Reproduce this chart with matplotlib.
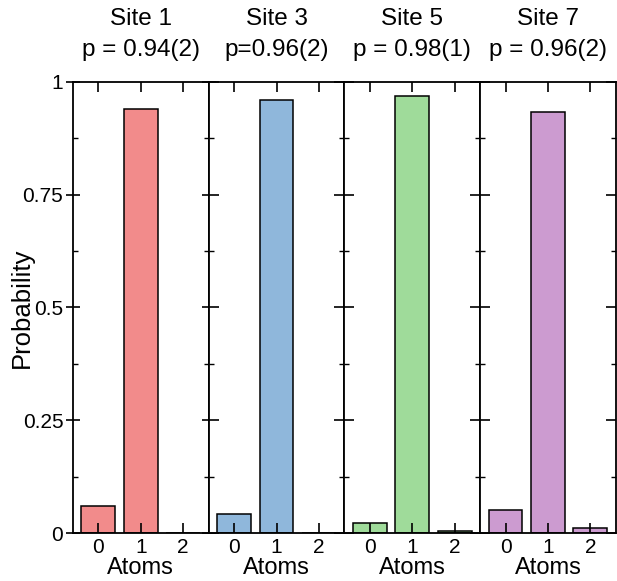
import numpy as np
import matplotlib.pyplot as plt
from matplotlib.ticker import MultipleLocator, FixedLocator

plt.rcParams['font.family'] = ['Liberation Sans', 'DejaVu Sans']
plt.rcParams['xtick.labelsize'] = 15
plt.rcParams['ytick.labelsize'] = 15

# Data
atoms = [0, 1, 2]
sites = ['Site 1', 'Site 3', 'Site 5', 'Site 7']
fidelity = ['p = 0.94(2)', 'p=0.96(2)', 'p = 0.98(1)', 'p = 0.96(2)']
site1 = [0.059, 0.940, 0.0]
site3 = [0.042, 0.959, 0.0]
site5 = [0.022, 0.970, 0.005]
site7 = [0.052, 0.933, 0.010]
probs = [site1, site3, site5, site7]
colors = ['#F28B8B', '#8FB7DB', '#9FDB9A', '#CC9BD0']

fig, axes = plt.subplots(1, 4, figsize=(6.17, 5.81), dpi=100, sharey=True)
fig.subplots_adjust(left=0.1183, right=0.998, bottom=0.0826, top=0.8589, wspace=0)

for i, ax in enumerate(axes):
    ax.bar(atoms, probs[i], width=0.8, color=colors[i], edgecolor='black', linewidth=1.1)
    ax.set_xlim(-0.6, 2.6)
    ax.set_ylim(0, 1)
    ax.set_xticks(atoms)
    ax.set_xticklabels(['0', '1', '2'], fontsize=15)
    ax.yaxis.set_major_locator(FixedLocator([0, 0.25, 0.5, 0.75, 1]))
    ax.yaxis.set_minor_locator(MultipleLocator(0.125))
    ax.tick_params(axis='both', which='major', direction='in', length=7, width=1.2,
                   top=True, right=True, pad=4)
    ax.tick_params(axis='y', which='minor', direction='in', length=3.5, width=1.0,
                   left=True, right=True)
    ax.tick_params(axis='x', which='major', pad=3.5)
    for s in ax.spines.values():
        s.set_linewidth(1.3)
    ax.set_title(sites[i] + '\n' + fidelity[i], fontsize=17.5, pad=19, linespacing=1.5)
    ax.set_xlabel('Atoms', fontsize=17, labelpad=0)
    if i > 0:
        ax.tick_params(axis='y', which='both', labelleft=False)

axes[0].set_yticklabels(['0', '0.25', '0.5', '0.75', '1'], fontsize=15)
axes[0].tick_params(axis='y', which='major', direction='inout', length=10, pad=2)
axes[0].set_ylabel('Probability', fontsize=18.5)
axes[0].yaxis.set_label_coords(-0.29, 0.5)

plt.savefig('out.png', dpi=100)
